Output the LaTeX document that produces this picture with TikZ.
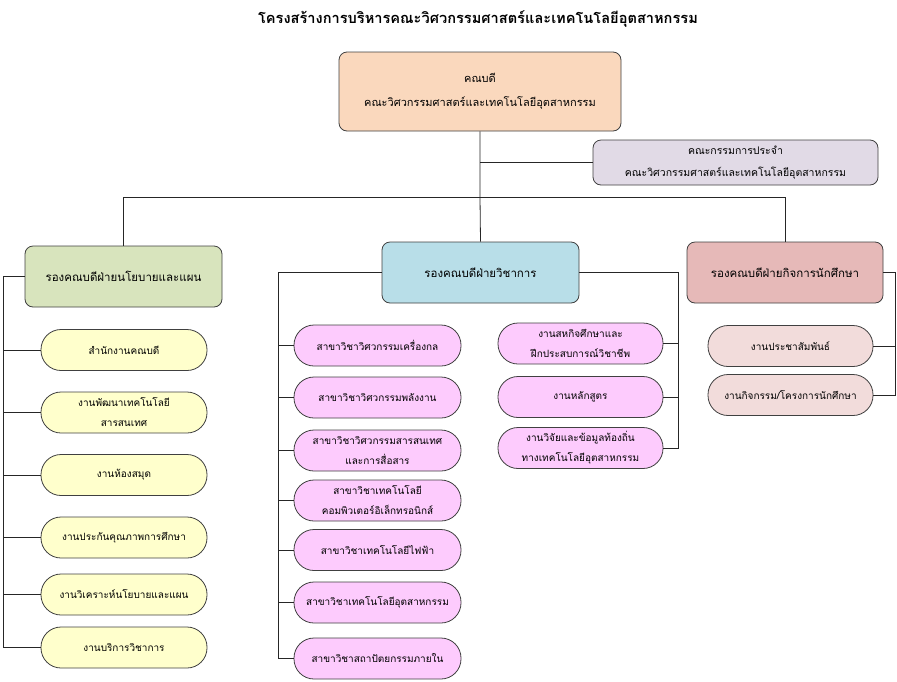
\documentclass[tikz,border=0pt]{standalone}
\usepackage{fontspec}
\setmainfont[Script=Thai]{Loma}
\usetikzlibrary{positioning}
\definecolor{deanc}{HTML}{FAD8BD}
\definecolor{commc}{HTML}{E1DAE6}
\definecolor{vplc}{HTML}{D8E4BD}
\definecolor{vpmc}{HTML}{B8DEE8}
\definecolor{vprc}{HTML}{E6B9B8}
\definecolor{yelc}{HTML}{FFFFCC}
\definecolor{pinkc}{HTML}{FDCBFD}
\definecolor{rosec}{HTML}{F2DCDB}
\definecolor{edgec}{HTML}{404040}
\begin{document}
\begin{tikzpicture}[x=1pt,y=-1pt,
  box/.style={draw=edgec,line width=0.8pt,rounded corners=8pt,align=center,inner sep=0pt,font=\fontsize{11}{24}\selectfont},
  vpbox/.style={box,font=\fontsize{11.5}{24}\selectfont},
  pill/.style={draw=edgec,line width=0.8pt,rounded corners=20pt,minimum width=166pt,minimum height=41pt,align=center,inner sep=0pt,font=\fontsize{10}{20}\selectfont},
  link/.style={draw=black!85,line width=0.8pt}]
\useasboundingbox (0,0) rectangle (897,681);
\node[font=\bfseries\fontsize{14.6}{16}\selectfont] (title) at (478,18.5) {โครงสร้างการบริหารคณะวิศวกรรมศาสตร์และเทคโนโลยีอุตสาหกรรม};
\node[box,fill=deanc,minimum width=282pt,minimum height=79pt] (dean) at (480,91.5) {คณบดี\\คณะวิศวกรรมศาสตร์และเทคโนโลยีอุตสาหกรรม};
\node[box,fill=commc,minimum width=285pt,minimum height=45pt,font=\fontsize{10.5}{22}\selectfont] (comm) at (735.5,162.5) {คณะกรรมการประจำ\\คณะวิศวกรรมศาสตร์และเทคโนโลยีอุตสาหกรรม};
\node[vpbox,fill=vplc,minimum width=197pt,minimum height=61pt] (vpL) at (123.5,276.5) {รองคณบดีฝ่ายนโยบายและแผน};
\node[vpbox,fill=vpmc,minimum width=197pt,minimum height=61pt] (vpM) at (480.5,272.5) {รองคณบดีฝ่ายวิชาการ};
\node[vpbox,fill=vprc,minimum width=196pt,minimum height=61pt] (vpR) at (785,272.5) {รองคณบดีฝ่ายกิจการนักศึกษา};
% left column
\node[pill,fill=yelc] (l1) at (124,350) {สำนักงานคณบดี};
\node[pill,fill=yelc] (l2) at (124,412.5) {งานพัฒนาเทคโนโลยี\\สารสนเทศ};
\node[pill,fill=yelc] (l3) at (124,475) {งานห้องสมุด};
\node[pill,fill=yelc] (l4) at (124,537.5) {งานประกันคุณภาพการศึกษา};
\node[pill,fill=yelc] (l5) at (124,594.5) {งานวิเคราะห์นโยบายและแผน};
\node[pill,fill=yelc] (l6) at (124,647.5) {งานบริการวิชาการ};
% middle column
\node[pill,fill=pinkc,minimum width=167pt] (m1) at (377.5,345.5) {สาขาวิชาวิศวกรรมเครื่องกล};
\node[pill,fill=pinkc,minimum width=167pt] (m2) at (377.5,397.5) {สาขาวิชาวิศวกรรมพลังงาน};
\node[pill,fill=pinkc,minimum width=167pt] (m3) at (377.5,450.5) {สาขาวิชาวิศวกรรมสารสนเทศ\\และการสื่อสาร};
\node[pill,fill=pinkc,minimum width=167pt] (m4) at (377.5,500.5) {สาขาวิชาเทคโนโลยี\\คอมพิวเตอร์อิเล็กทรอนิกส์};
\node[pill,fill=pinkc,minimum width=167pt] (m5) at (377.5,550) {สาขาวิชาเทคโนโลยีไฟฟ้า};
\node[pill,fill=pinkc,minimum width=167pt] (m6) at (377.5,602.5) {สาขาวิชาเทคโนโลยีอุตสาหกรรม};
\node[pill,fill=pinkc,minimum width=167pt] (m7) at (377.5,658.5) {สาขาวิชาสถาปัตยกรรมภายใน};
% middle-right column
\node[pill,fill=pinkc,minimum width=165pt] (n1) at (580.5,343.5) {งานสหกิจศึกษาและ\\ฝึกประสบการณ์วิชาชีพ};
\node[pill,fill=pinkc,minimum width=165pt] (n2) at (580.5,397) {งานหลักสูตร};
\node[pill,fill=pinkc,minimum width=165pt] (n3) at (580.5,448) {งานวิจัยและข้อมูลท้องถิ่น\\ทางเทคโนโลยีอุตสาหกรรม};
% right column
\node[pill,fill=rosec,minimum width=165pt] (r1) at (790.5,346) {งานประชาสัมพันธ์};
\node[pill,fill=rosec,minimum width=165pt] (r2) at (790.5,395) {งานกิจกรรม/โครงการนักศึกษา};
% buses
\coordinate (j1) at (480,197);
\coordinate (lbus) at (3,0);
\coordinate (mbus) at (278,0);
\coordinate (nbus) at (678,0);
\coordinate (rbus) at (895,0);
\draw[link] (dean.south) -- (j1) -- (vpM.north);
\draw[link] (dean.south |- comm.west) -- (comm.west);
\draw[link] (vpL.north) -- (vpL.north |- j1) -- (vpR.north |- j1) -- (vpR.north);
\draw[link] (vpL.west) -- (vpL.west -| lbus) -- (l6.west -| lbus) -- (l6.west);
\foreach \c in {l1,l2,l3,l4,l5} \draw[link] (\c.west -| lbus) -- (\c.west);
\draw[link] (vpM.west) -- (vpM.west -| mbus) -- (m7.west -| mbus) -- (m7.west);
\foreach \c in {m1,m2,m3,m4,m5,m6} \draw[link] (\c.west -| mbus) -- (\c.west);
\draw[link] (vpM.east) -- (vpM.east -| nbus) -- (n3.east -| nbus) -- (n3.east);
\foreach \c in {n1,n2} \draw[link] (\c.east -| nbus) -- (\c.east);
\draw[link] (vpR.east) -- (vpR.east -| rbus) -- (r2.east -| rbus) -- (r2.east);
\draw[link] (r1.east -| rbus) -- (r1.east);
\end{tikzpicture}
\end{document}
